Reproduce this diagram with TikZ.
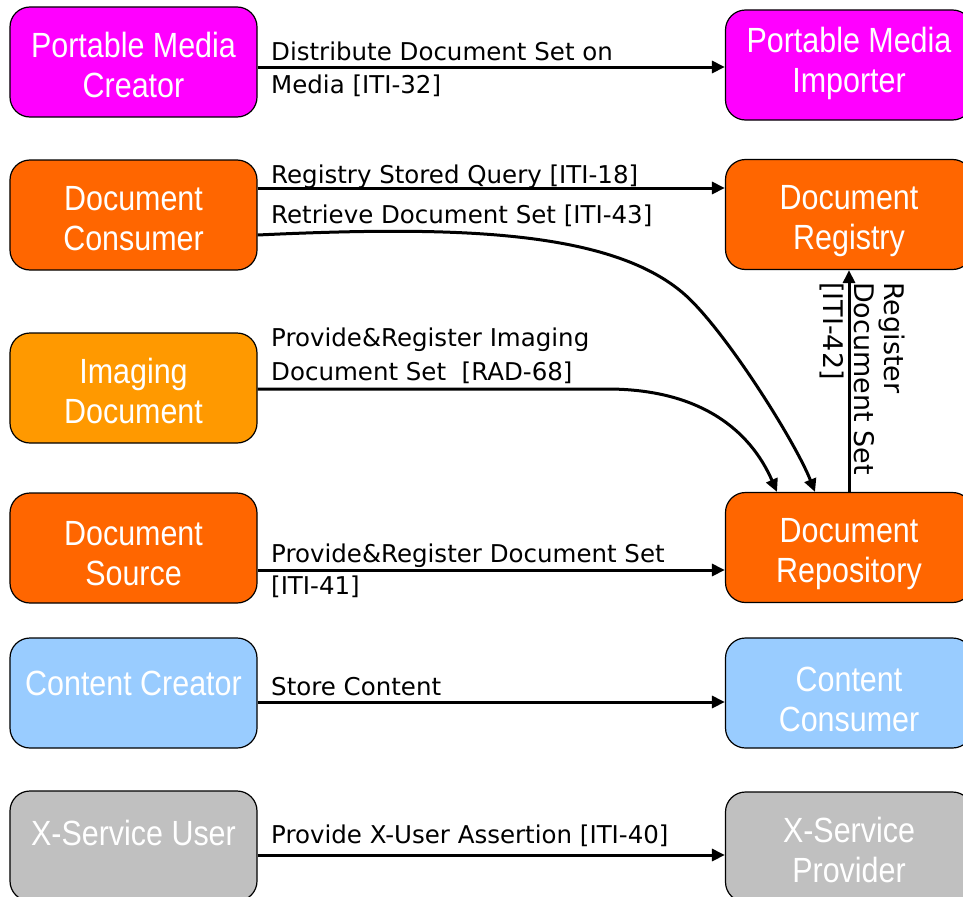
\documentclass[tikz,border=0pt]{standalone}
\usepackage{fontspec}
\setmainfont{DejaVu Sans}
\newfontfamily\boxfont[FakeStretch=0.87]{Liberation Sans}
\usetikzlibrary{arrows.meta,calc}

\definecolor{pmag}{HTML}{FF00FF}
\definecolor{porange}{HTML}{FF6600}
\definecolor{pamber}{HTML}{FF9900}
\definecolor{pblue}{HTML}{99CCFF}
\definecolor{pgray}{HTML}{C0C0C0}

\begin{document}
\begin{tikzpicture}[x=1bp,y=-1bp,
  actor/.style={draw=black, line width=1.2bp, rounded corners=20bp,
    minimum width=247bp, minimum height=110bp, inner sep=0pt},
  atext/.style={inner sep=0pt, text=white, align=center,
    font=\boxfont\fontsize{35bp}{40bp}\selectfont},
  lbl/.style={anchor=base west, inner sep=0pt,
    font=\fontsize{24.5bp}{33bp}\selectfont},
  vlbl/.style={anchor=base west, inner sep=0pt, rotate=-90,
    font=\fontsize{27bp}{31bp}\selectfont},
  arr/.style={line width=3bp, -{Triangle[length=13bp,width=12bp]}}]

\clip (0,0) rectangle (963,897);

% actors, left column
\node[actor, fill=pmag]    (pmc)  at (133.5,62)  {};
\node[actor, fill=porange] (dc)   at (133.5,215) {};
\node[actor, fill=pamber]  (img)  at (133.5,388) {};
\node[actor, fill=porange] (ds)   at (133.5,548) {};
\node[actor, fill=pblue]   (cc)   at (133.5,693) {};
\node[actor, fill=pgray]   (xu)   at (133.5,846) {};

% actors, right column
\node[actor, fill=pmag]    (pmi)  at (849,65)    {};
\node[actor, fill=porange] (reg)  at (849,214.5) {};
\node[actor, fill=porange] (repo) at (849,547.5) {};
\node[actor, fill=pblue]   (ccon) at (849,693)   {};
\node[actor, fill=pgray]   (xp)   at (849,847)   {};

% actor names
\node[atext] (pmcT)  at ($(pmc)+(0,3)$)   {Portable Media\\Creator};
\node[atext] (dcT)   at ($(dc)+(0,4)$)    {Document\\Consumer};
\node[atext] (imgT)  at ($(img)+(0,3)$)   {Imaging\\Document};
\node[atext] (dsT)   at ($(ds)+(0,6)$)    {Document\\Source};
\node[atext] (ccT)   at ($(cc)+(0,-10)$)  {Content Creator};
\node[atext] (xuT)   at ($(xu)+(0,-13)$)  {X-Service User};
\node[atext] (pmiT)  at ($(pmi)+(0,-2)$)  {Portable Media\\Importer};
\node[atext] (regT)  at ($(reg)+(0,7)$)   {Document\\Registry};
\node[atext] (repoT) at ($(repo)+(0,7)$)  {Document\\Repository};
\node[atext] (cconT) at ($(ccon)+(0,6)$)  {Content\\Consumer};
\node[atext] (xpT)   at ($(xp)+(0,3)$)    {X-Service\\Provider};

% start points of the transactions
\coordinate (s32) at ($(pmc.east)+(0,5)$);
\coordinate (s18) at ($(dc.east)+(0,-27)$);
\coordinate (s43) at ($(dc.east)+(0,20)$);
\coordinate (s68) at ($(img.east)+(0,1)$);
\coordinate (s41) at ($(ds.east)+(0,22)$);
\coordinate (ssc) at ($(cc.east)+(0,9)$);
\coordinate (s40) at ($(xu.east)+(0,9)$);
\coordinate (e43) at ($(repo.north)+(-34,0)$);
\coordinate (e68) at ($(repo.north)+(-72,0)$);
\coordinate (m43) at (683,293);
\coordinate (m68) at (607,389);

% transactions
\draw[arr] (s32) -- (s32 -| pmi.west);
\draw[arr] (s18) -- (s18 -| reg.west);
\draw[arr] (s43) .. controls (450,226) and (608,229) .. (m43)
                 .. controls (723,327) and (795,441) .. (e43);
\draw[arr] (s68) -- (m68) .. controls (700,389) and (750,430) .. (e68);
\draw[arr] (s41) -- (s41 -| repo.west);
\draw[arr] (repo.north) -- (reg.south);
\draw[arr] (ssc) -- (ssc -| ccon.west);
\draw[arr] (s40) -- (s40 -| xp.west);

% transaction labels
\node[lbl] (t32a) at (271,60)  {Distribute Document Set on};
\node[lbl] (t32b) at (271,93)  {Media [ITI-32]};
\node[lbl] (t18)  at (271,183) {Registry Stored Query [ITI-18]};
\node[lbl] (t43)  at (271,223) {Retrieve Document Set [ITI-43]};
\node[lbl] (t68a) at (271,346) {Provide\&Register Imaging};
\node[lbl] (t68b) at (271,380) {Document Set~ [RAD-68]};
\node[lbl] (t41a) at (271,562) {Provide\&Register Document Set};
\node[lbl] (t41b) at (271,594) {[ITI-41]};
\node[lbl] (tsc)  at (271,695) {Store Content};
\node[lbl] (t40)  at (271,843) {Provide X-User Assertion [ITI-40]};

\node[vlbl] (t42a) at (884,282) {Register};
\node[vlbl] (t42b) at (854,282) {Document Set};
\node[vlbl] (t42c) at (823,282) {[ITI-42]};

\end{tikzpicture}
\end{document}
